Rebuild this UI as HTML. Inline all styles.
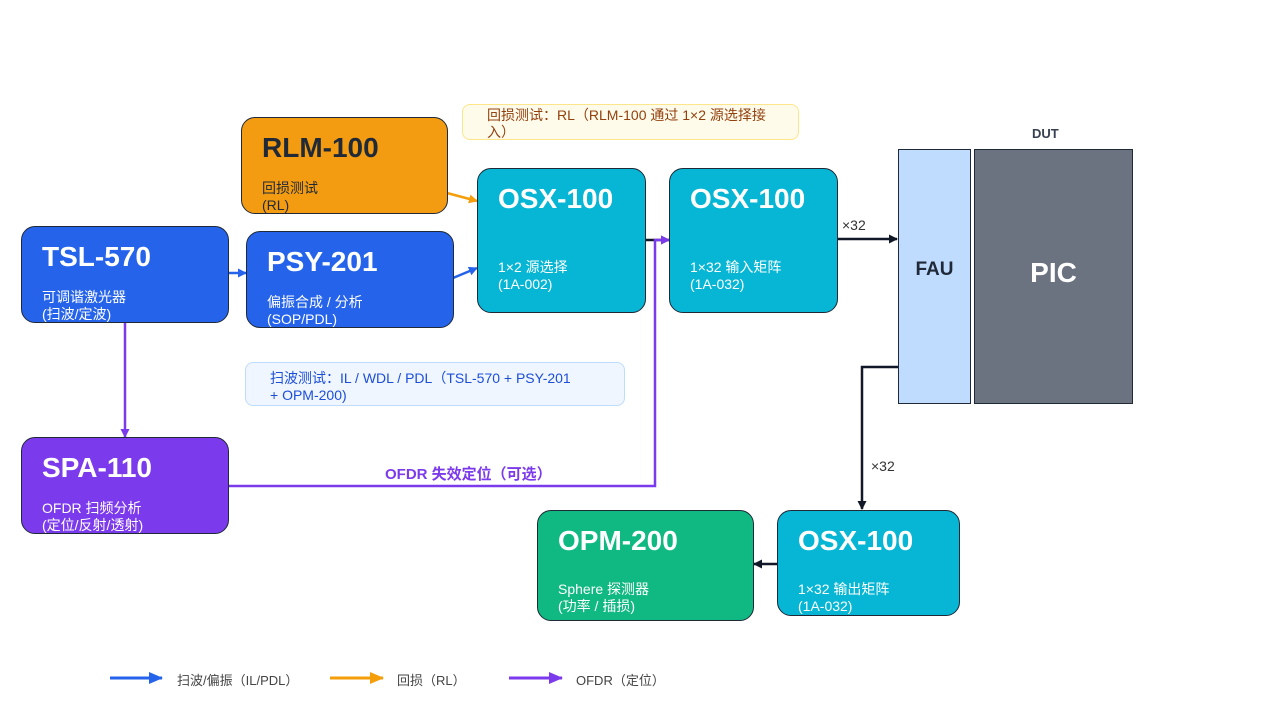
<!DOCTYPE html>
<html><head><meta charset="utf-8"><style>
body{margin:0;width:1280px;height:720px;background:#fff;position:relative;overflow:hidden;font-family:"Liberation Sans","Noto Sans CJK SC",sans-serif}
.b{position:absolute;box-sizing:border-box;border:1px solid #1f2937;border-radius:14px;color:#fff}
.b .t{position:absolute;left:20px;top:14px;font-size:28px;font-weight:bold;line-height:32px}
.b .s{position:absolute;left:20px;font-size:14px;line-height:17px}
.n{position:absolute;box-sizing:border-box;border-radius:8px;font-size:14px;line-height:17px;padding:2px 24px}
.l{position:absolute;font-size:13px;color:#444}
svg{position:absolute;left:0;top:0}
</style></head><body>
<svg width="1280" height="720">
<defs>
<marker id="bl" markerWidth="9" markerHeight="9" refX="8" refY="4.5" orient="auto" markerUnits="userSpaceOnUse"><path d="M0,0L9,4.5L0,9z" fill="#2563eb"/></marker>
<marker id="or" markerWidth="9" markerHeight="9" refX="8" refY="4.5" orient="auto" markerUnits="userSpaceOnUse"><path d="M0,0L9,4.5L0,9z" fill="#f59e0b"/></marker>
<marker id="pu" markerWidth="9" markerHeight="9" refX="8" refY="4.5" orient="auto" markerUnits="userSpaceOnUse"><path d="M0,0L9,4.5L0,9z" fill="#7c3aed"/></marker>
<marker id="bk" markerWidth="9" markerHeight="9" refX="8" refY="4.5" orient="auto" markerUnits="userSpaceOnUse"><path d="M0,0L9,4.5L0,9z" fill="#111827"/></marker>
<marker id="lb" markerWidth="14" markerHeight="12" refX="13" refY="6" orient="auto" markerUnits="userSpaceOnUse"><path d="M0,0L14,6L0,12z" fill="#2563eb"/></marker>
<marker id="lo" markerWidth="14" markerHeight="12" refX="13" refY="6" orient="auto" markerUnits="userSpaceOnUse"><path d="M0,0L14,6L0,12z" fill="#f59e0b"/></marker>
<marker id="lp" markerWidth="14" markerHeight="12" refX="13" refY="6" orient="auto" markerUnits="userSpaceOnUse"><path d="M0,0L14,6L0,12z" fill="#7c3aed"/></marker>
</defs>
<g fill="none" stroke-width="2.5">
<path d="M228,273H246" stroke="#2563eb" marker-end="url(#bl)"/>
<path d="M453,278L477,268" stroke="#2563eb" marker-end="url(#bl)"/>
<path d="M447,193L477,201" stroke="#f59e0b" marker-end="url(#or)"/>
<path d="M645,240H669" stroke="#111827" marker-end="url(#bk)"/>
<path d="M125,322V437" stroke="#7c3aed" marker-end="url(#pu)"/>
<path d="M228,486H655V240H669" stroke="#7c3aed" marker-end="url(#pu)"/>
<path d="M837,239H897" stroke="#111827" marker-end="url(#bk)"/>
<path d="M898,367H862V509" stroke="#111827" marker-end="url(#bk)"/>
<path d="M777,564H754" stroke="#111827" marker-end="url(#bk)"/>
<path d="M110,678H162" stroke="#2563eb" stroke-width="3" marker-end="url(#lb)"/>
<path d="M330,678H383" stroke="#f59e0b" stroke-width="3" marker-end="url(#lo)"/>
<path d="M509,678H562" stroke="#7c3aed" stroke-width="3" marker-end="url(#lp)"/>
</g>
</svg>
<div class="n" style="left:462px;top:104px;width:337px;height:36px;background:#fffbeb;border:1px solid #fde68a;color:#92400e">回损测试：RL（RLM-100 通过 1×2 源选择接入）</div>
<div class="n" style="left:245px;top:362px;width:380px;height:44px;background:#eff6ff;border:1px solid #bfdbfe;color:#1d4ed8;padding-top:7px">扫波测试：IL / WDL / PDL（TSL-570 + PSY-201<br>+ OPM-200)</div>
<div class="b" style="left:241px;top:117px;width:207px;height:97px;background:#f39c12;color:#1f2937"><div class="t">RLM-100</div><div class="s" style="top:62px">回损测试<br>(RL)</div></div>
<div class="b" style="left:21px;top:226px;width:208px;height:97px;background:#2563eb"><div class="t">TSL-570</div><div class="s" style="top:62px">可调谐激光器<br>(扫波/定波)</div></div>
<div class="b" style="left:246px;top:231px;width:208px;height:97px;background:#2563eb"><div class="t">PSY-201</div><div class="s" style="top:62px">偏振合成 / 分析<br>(SOP/PDL)</div></div>
<div class="b" style="left:477px;top:168px;width:169px;height:145px;background:#06b6d4"><div class="t">OSX-100</div><div class="s" style="top:90px">1×2 源选择<br>(1A-002)</div></div>
<div class="b" style="left:669px;top:168px;width:169px;height:145px;background:#06b6d4"><div class="t">OSX-100</div><div class="s" style="top:90px">1×32 输入矩阵<br>(1A-032)</div></div>
<div class="b" style="left:21px;top:437px;width:208px;height:97px;background:#7c3aed"><div class="t">SPA-110</div><div class="s" style="top:62px">OFDR 扫频分析<br>(定位/反射/透射)</div></div>
<div class="b" style="left:537px;top:510px;width:217px;height:111px;background:#10b981"><div class="t">OPM-200</div><div class="s" style="top:70px">Sphere 探测器<br>(功率 / 插损)</div></div>
<div class="b" style="left:777px;top:510px;width:183px;height:106px;background:#06b6d4"><div class="t">OSX-100</div><div class="s" style="top:70px">1×32 输出矩阵<br>(1A-032)</div></div>
<div style="position:absolute;left:898px;top:149px;width:73px;height:255px;box-sizing:border-box;border:1px solid #1f2937;background:#bfdbfe;display:flex;align-items:center;justify-content:center;font-weight:bold;font-size:19px;color:#1f2937;padding-bottom:14px">FAU</div>
<div style="position:absolute;left:974px;top:149px;width:159px;height:255px;box-sizing:border-box;border:1px solid #1f2937;background:#6b7280;display:flex;align-items:center;justify-content:center;font-weight:bold;font-size:28px;color:#fff;padding-bottom:8px">PIC</div>
<div style="position:absolute;left:1032px;top:126px;font-size:13px;font-weight:bold;color:#374151">DUT</div>
<div style="position:absolute;left:842px;top:217px;font-size:14px;color:#333">×32</div>
<div style="position:absolute;left:871px;top:458px;font-size:14px;color:#333">×32</div>
<div style="position:absolute;left:385px;top:463px;font-size:15px;font-weight:bold;color:#7c3aed">OFDR 失效定位（可选）</div>
<div class="l" style="left:177px;top:670px">扫波/偏振（IL/PDL）</div>
<div class="l" style="left:397px;top:670px">回损（RL）</div>
<div class="l" style="left:576px;top:670px">OFDR（定位）</div>
</body></html>
